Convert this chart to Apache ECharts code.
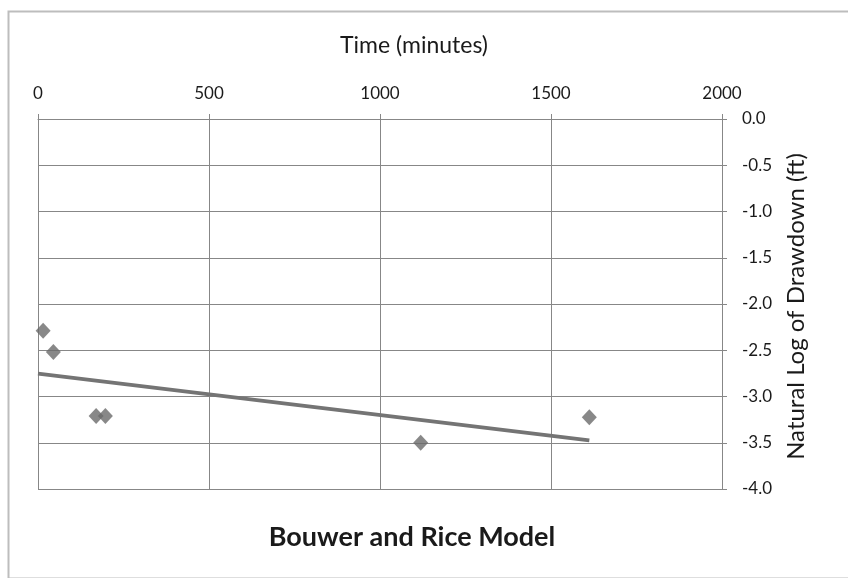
<!DOCTYPE html>
<html>
<head>
<meta charset="utf-8">
<style>
  html, body { margin: 0; padding: 0; background: #fff; }
  #chart { width: 848px; height: 578px; }
</style>
<script src="https://cdn.jsdelivr.net/npm/echarts@6/dist/echarts.min.js"></script>
</head>
<body>
<div id="chart"></div>
<script>
// Observed drawdown: time since start (minutes) and ln(drawdown in ft)
const timeMinutes = [15, 45, 170, 197, 1119, 1612];
const lnDrawdown = [-2.29, -2.52, -3.21, -3.21, -3.50, -3.225];

// Linear trend line endpoints (time, ln drawdown)
const trendTime = [0, 1612];
const trendValue = [-2.752, -3.474];

// Axis tick settings
const xTicks = { min: 0, max: 2000, interval: 500 };
const yTicks = { min: -4, max: 0, interval: 0.5 };

const points = timeMinutes.map((t, i) => [t, lnDrawdown[i]]);
const trend = trendTime.map((t, i) => [t, trendValue[i]]);

const font = 'Lato, "Open Sans", sans-serif';
const textColor = '#1a1a1a';
const gridColor = '#878787';

const chart = echarts.init(document.getElementById('chart'), null, { renderer: 'canvas' });
chart.setOption({
  backgroundColor: '#ffffff',
  animation: false,
  title: [
    {
      text: 'Time (minutes)',
      left: 409,
      top: 29,
      textAlign: 'center',
      textStyle: { fontFamily: font, fontSize: 23, fontWeight: 'normal', color: textColor }
    },
    {
      text: 'Bouwer and Rice Model',
      left: 407,
      top: 519,
      textAlign: 'center',
      textStyle: { fontFamily: font, fontSize: 27, fontWeight: 'bold', color: textColor }
    }
  ],
  graphic: [{
    type: 'rect',
    left: 6,
    top: 9,
    shape: { width: 880, height: 567 },
    style: { fill: 'none', stroke: '#bdbdbd', lineWidth: 2 },
    silent: true
  }],
  grid: { left: 38, top: 119, right: 126, bottom: 89, containLabel: false },
  xAxis: {
    type: 'value',
    position: 'top',
    min: xTicks.min, max: xTicks.max, interval: xTicks.interval,
    axisLine: { show: true, lineStyle: { color: gridColor, width: 1 } },
    axisTick: { show: true, inside: false, length: 5, lineStyle: { color: gridColor } },
    axisLabel: {
      margin: 17, fontFamily: font, fontSize: 17, color: textColor,
      formatter: v => String(v)
    },
    splitLine: { show: true, lineStyle: { color: gridColor, width: 1 } }
  },
  yAxis: {
    type: 'value',
    position: 'right',
    min: yTicks.min, max: yTicks.max, interval: yTicks.interval,
    name: 'Natural Log of Drawdown (ft)',
    nameLocation: 'middle',
    nameRotate: 90,
    nameGap: 62,
    nameTextStyle: { fontFamily: font, fontSize: 24, color: textColor, padding: [0, 5, 0, 0] },
    axisLine: { show: true, onZero: false, lineStyle: { color: gridColor, width: 1 } },
    axisTick: { show: true, inside: false, length: 5, lineStyle: { color: gridColor } },
    axisLabel: {
      margin: 20, fontFamily: font, fontSize: 17, color: textColor,
      formatter: v => v.toFixed(1)
    },
    splitLine: { show: true, lineStyle: { color: gridColor, width: 1 } }
  },
  series: [
    {
      type: 'line',
      data: trend,
      symbol: 'none',
      lineStyle: { color: '#747474', width: 3.8 },
      z: 2
    },
    {
      type: 'scatter',
      data: points,
      symbol: 'diamond',
      symbolSize: [15, 16],
      itemStyle: { color: '#6a6a6a' },
      z: 3
    }
  ]
});
</script>
</body>
</html>
